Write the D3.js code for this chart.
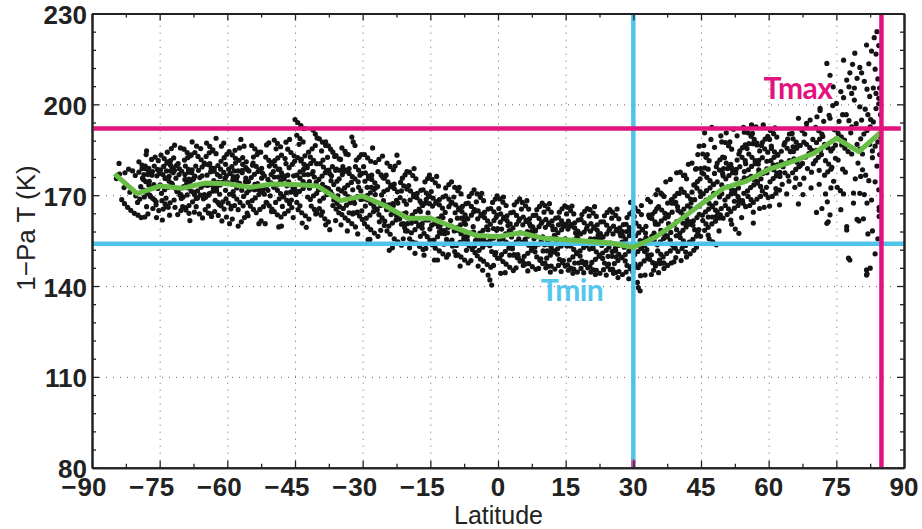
<!DOCTYPE html>
<html>
<head>
<meta charset="utf-8">
<script src="https://cdn.jsdelivr.net/npm/d3@7"></script>
<style>
  body { margin: 0; background: #fff; }
  text { font-family: "Liberation Sans", Arial, Helvetica, sans-serif; fill: #222; }
</style>
</head>
<body>
<svg id="chart" width="922" height="529"></svg>
<script>
// tick labels
const xTicks = [-90, -75, -60, -45, -30, -15, 0, 15, 30, 45, 60, 75, 90]
const yTicks = [80, 110, 140, 170, 200, 230]

// zonal mean (green line)
const meanLat = [-85, -80, -75, -70, -65, -60, -55, -50, -45, -40, -35, -30, -25, -20, -15, -10, -5, 0,
  5, 10, 15, 20, 25, 30, 35, 40, 45, 50, 55, 60, 65, 70, 75, 80, 85]
const meanT = [177, 170.5, 173, 172.3, 174, 173.8, 172.6, 173.7, 173.5, 173, 168.2, 169.7, 166.5, 162.4, 162.4, 159.5, 156.8, 156.3,
  157.6, 155.8, 155.3, 154.8, 154.2, 152.8, 156.2, 161.5, 167, 172.3, 174.6, 178.5, 181, 183.8, 188.8, 184.4, 191]

// reference lines
const tMin = 154, tMinLat = 30
const tMax = 192, tMaxLat = 85

// individual retrievals [latitude, T]
const scatterSouth = [
  [-84.6,175.5],[-83.9,177],[-82.7,177.4],[-81.9,178.6],[-81,178],[-80.4,176.5],[-83.4,168.5],[-82.8,167.2],[-82.1,166],[-81.4,165],[-80.6,164],
  [-82.9,172.5],[-81.6,171],[-80.3,169.8],[-84,180.5],
  [-79.8,163.4],[-79.1,162.6],[-78.3,162.8],[-77.6,163.8],[-79.6,177.6],[-78.9,178.8],[-78.2,179.6],[-77.4,178.9],[-76.6,177.8],
  [-79.2,172.8],[-78.5,171.7],[-77.8,170.6],[-77,169.5],[-76.1,168.4],[-76.8,181.8],[-76,182.6],[-75.3,181.4],
  [-78.6,175.2],[-77.3,174.6],[-76.3,173.5],[-75.4,172.2],[-76.5,165.6],[-75.8,166.8],[-75.2,164.9],[-78,183.4],[-75.6,176.4],[-79.4,168.7],[-77.9,166.2],
  [-74.8,178.4],[-74.1,179.5],[-73.4,180.6],[-72.6,181.4],[-71.9,182.3],[-74.6,170.6],[-73.9,171.8],[-73.1,172.6],[-72.3,173.9],
  [-74.2,165.4],[-73.5,166.3],[-72.7,167.5],[-71.8,168.4],[-71.4,175.6],[-70.7,176.8],[-70.1,177.9],[-73.8,175.5],[-72.9,176.2],[-72,177.4],
  [-71.2,171.2],[-70.5,170.1],[-70.2,168.9],[-73.3,184.2],[-72.4,185.4],[-71,163.6],[-70.3,164.9],[-74.4,161.8],[-72.2,179.1],[-70.9,180.4],[-73.6,169],[-71.6,166],
  [-69.7,172.8],[-69,173.9],[-68.2,174.6],[-67.4,175.7],[-69.5,181.6],[-68.8,182.4],[-68,183.3],[-67.2,184.1],[-69.2,165.8],[-68.5,166.6],[-67.7,167.8],[-66.9,168.9],
  [-66.4,178.2],[-65.6,179.3],[-65.1,180.2],[-68.6,177.6],[-67.8,178.4],[-67,179.6],[-66.6,171.4],[-65.8,172.6],[-65.2,173.4],[-69.8,169.4],[-68.9,170.1],[-67.5,171],
  [-66.2,163.8],[-65.5,162.5],[-68.3,161.6],[-66.8,186.2],[-65.9,185.4],[-69.4,176.8],[-66.1,175.8],[-67.3,164.4],
  [-64.7,182.8],[-64,184],[-63.3,184.6],[-62.5,183.7],[-64.5,176.6],[-63.7,177.7],[-62.9,178.9],[-62.1,179.8],[-64.8,169.3],[-64,170.5],[-63.2,171.3],[-62.4,172.4],[-61.6,173.4],
  [-61.8,166.9],[-61,167.8],[-60.3,168.8],[-63.6,163.8],[-62.8,164.6],[-62,163.3],[-61.4,181.2],[-60.7,182.4],[-60.1,183.5],[-63,174.8],[-61.6,176.2],[-60.5,175.6],
  [-60.8,187.2],[-61.3,186.2],[-64.2,166.4],[-60.4,171.6],[-62.7,168.3],[-61.2,161.5],[-63.9,180.4],
  [-59.7,178.6],[-59,179.4],[-58.2,180.6],[-57.4,181.5],[-56.6,182.4],[-59.5,170.3],[-58.7,171.2],[-57.9,172.4],[-57.1,173.2],[-59.2,165.5],[-58.4,166.6],[-57.6,165.2],
  [-57.6,159.8],[-56.9,161.2],[-56.2,162.6],[-55.6,164.1],[-58.8,175],[-57.8,176.2],[-56.7,177.4],[-55.6,178.5],[-56.4,169.6],[-55.7,170.8],[-55.2,171.6],
  [-58.3,184.8],[-57.3,185.6],[-56.3,186.2],[-59.8,174.1],[-56,174.4],[-55.4,167.6],[-58.9,162.1],[-55.8,181],
  [-54.7,175.8],[-54,176.9],[-53.2,177.8],[-52.4,178.9],[-54.5,168.2],[-53.8,169.1],[-53,170.2],[-52.2,171.1],[-51.4,172.3],[-54.2,182.6],[-53.4,183.4],[-52.6,184.2],
  [-51.8,176.4],[-51,175.2],[-50.3,174.1],[-53.6,164.2],[-52.8,165.3],[-52,166.2],[-51.2,167.4],[-50.7,179.6],[-50.2,180.8],[-51.3,186.6],[-50.8,187.3],
  [-54.8,172.1],[-53.3,173.8],[-50.5,169.8],[-52.5,161.5],[-51.6,160.6],[-54.4,179.9],[-50.2,164.6],
  [-49.7,172.6],[-49,173.4],[-48.2,174.6],[-47.4,175.4],[-46.6,176.6],[-49.5,181.4],[-48.8,182.3],[-48,183.2],[-47.2,182.1],[-49.3,167.6],[-48.5,168.8],[-47.7,169.6],[-46.9,170.8],
  [-48.1,162.8],[-47.3,163.9],[-46.5,164.8],[-45.7,165.9],[-46.3,179.1],[-45.6,180.2],[-45.1,181.2],[-49.8,177.8],[-48.4,178.6],[-46.8,173.1],[-45.4,172.2],
  [-47,187.5],[-46.2,188.4],[-45.3,176.4],[-45.8,168.4],[-49.2,185.3],[-48.6,159.5],[-47.8,166.3],
  [-45,195],[-44.4,194],[-43.7,193],[-43,192],[-44.6,176.6],[-43.9,177.7],[-43.1,178.5],[-42.3,179.6],[-41.5,180.5],[-44.8,170.2],[-44,171.3],[-43.2,172.2],[-42.4,173.4],
  [-44.3,165.2],[-43.5,164.2],[-42.7,163.2],[-41.9,162.1],[-42,184.2],[-41.2,185.3],[-40.5,186.4],[-41.6,168.6],[-40.9,169.8],[-40.2,170.6],[-41,191.5],[-40.5,190.2],[-40.1,188.9],
  [-43.6,181.8],[-42.8,183],[-40.7,176],[-41.8,174.5],[-44.1,186.8],[-40.4,163.8],[-42.5,159.4],
  [-39.7,175.2],[-39,176.3],[-38.3,177.4],[-37.5,178.3],[-36.7,179.4],[-39.5,168.1],[-38.7,169],[-37.9,170.2],[-37.1,171.2],[-39.2,163.4],[-38.4,162.2],[-37.6,161.2],
  [-38.2,187.6],[-37.6,186.3],[-37.1,185.2],[-36.4,173.5],[-35.7,174.6],[-35.2,175.4],[-36.6,166.6],[-35.9,165.4],[-35.3,164.2],[-38.8,181.6],[-37.8,182.5],[-36.2,182.8],
  [-39.8,171.8],[-36.9,176.4],[-35.5,169.8],[-37.3,158.6],[-39.1,184.6],[-35.8,178.6],
  [-34.7,171.4],[-34,172.4],[-33.3,173.3],[-32.5,174.2],[-31.7,175.4],[-34.5,176.8],[-33.8,177.9],[-33,178.8],[-34.3,165.6],[-33.6,166.7],[-32.8,167.5],[-32,168.6],[-31.2,169.5],
  [-33.2,161.6],[-32.4,160.6],[-31.6,159.5],[-32.4,189.2],[-32.1,187.6],[-31.7,186.4],[-31.4,181.6],[-30.8,182.5],[-30.3,183.4],[-30.9,172.6],[-30.4,171.4],[-30.2,164.8],
  [-34.9,181.8],[-33.7,183.6],[-32.2,163.8],[-30.6,176.6],[-34.8,160.2],[-31.1,157.2]
]

const scatterSouthB = [
  [-79.6,181],[-78.9,179.9],[-78.2,178.8],[-77.5,177.7],[-78.8,175.6],[-78.1,174.5],[-77.4,173.4],[-76.7,172.3],[-77.2,170],[-76.5,168.9],[-75.8,167.8],
  [-76.2,179.6],[-75.5,178.5],[-75.1,177.2],[-79.9,167.6],[-77.9,184.6],[-75.7,162.6],[-78.4,169.4],
  [-74.7,183.2],[-74,182.1],[-73.3,181],[-72.6,179.9],[-74.3,176.8],[-73.6,175.7],[-72.9,174.6],[-72.2,173.5],[-71.6,172.4],[-70.9,171.3],[-70.3,170.2],
  [-74.5,168.2],[-73.8,167.1],[-73.1,166],[-71.3,179.8],[-70.6,178.7],[-72.8,163.4],[-70.4,185.6],[-74.9,173.4],[-71.7,186.5],
  [-69.6,185.2],[-68.9,184.1],[-68.2,183],[-69.3,179.6],[-68.6,178.5],[-67.9,177.4],[-67.2,176.3],[-68.7,172.4],[-68,171.3],[-67.3,170.2],[-66.6,169.1],
  [-66.5,182.8],[-65.8,181.7],[-65.1,180.6],[-69.9,166.2],[-69.2,165.1],[-68.5,164],[-65.6,176.4],[-66.9,166.2],[-65.3,168.8],[-67.8,187.6],
  [-64.6,187.2],[-63.9,186.1],[-63.2,185],[-64.3,180.1],[-63.6,179],[-62.9,177.9],[-62.2,176.8],[-63.8,173.6],[-63.1,172.5],[-62.4,171.4],[-61.7,170.3],
  [-61.5,178.6],[-60.8,177.5],[-60.2,176.4],[-64.9,165.2],[-64.2,164.1],[-63.5,163],[-62.1,167.6],[-61.4,166.5],[-60.7,165.4],[-60.4,180.2],[-62.5,188.8],[-60.2,162.8],[-64.4,173.2],
  [-59.6,184.4],[-58.9,183.3],[-58.2,182.2],[-59.4,177.2],[-58.7,176.1],[-58,175],[-57.3,173.9],[-58.6,169.8],[-57.9,168.7],[-57.2,167.6],[-56.5,166.5],
  [-56.6,180.2],[-55.9,179.1],[-55.2,178],[-59.8,167.4],[-59.1,166.3],[-55.9,175.6],[-55.3,174.5],[-57,188.4],[-55.4,163.2],[-59.5,160.6],[-56.8,171.6],
  [-54.6,186.4],[-53.9,185.3],[-53.2,184.2],[-54.3,180.6],[-53.6,179.5],[-52.9,178.4],[-52.2,177.3],[-53.9,173.6],[-53.2,172.5],[-52.5,171.4],[-51.8,170.3],
  [-51.5,182.6],[-50.8,181.5],[-50.1,180.4],[-54.9,166.4],[-54.2,165.3],[-51.4,167.6],[-50.7,166.5],[-50.1,165.4],[-52.4,175.6],[-50.3,176.8],[-53,160.6],[-51,171.6],
  [-49.6,188.2],[-48.9,187.1],[-48.2,186],[-49.4,179.6],[-48.7,178.5],[-48,177.4],[-47.3,176.3],[-48.9,171.6],[-48.2,170.5],[-47.5,169.4],[-46.8,168.3],
  [-46.6,185.2],[-45.9,184.1],[-45.2,183],[-49.6,164.6],[-48.9,163.5],[-46.4,174.4],[-45.7,173.3],[-45.1,172.2],[-47,180.4],[-45.4,162.6],[-48,159.8],[-46.2,167.2],
  [-44.6,189.8],[-43.9,188.7],[-43.2,187.6],[-44.4,182.4],[-43.7,181.3],[-43,180.2],[-42.3,179.1],[-43.9,175.6],[-43.2,174.5],[-42.5,173.4],[-41.8,172.3],
  [-41.6,182.6],[-40.9,181.5],[-40.2,180.4],[-44.6,167.6],[-43.9,166.5],[-41.4,166.4],[-40.7,165.3],[-40.1,164.2],[-42.2,169.4],[-40.3,174.2],[-43.4,160.8],[-41,177.8],
  [-39.6,188.6],[-38.9,187.5],[-38.2,186.4],[-39.4,180.4],[-38.7,179.3],[-38,178.2],[-37.3,177.1],[-38.9,173.6],[-38.2,172.5],[-37.5,171.4],[-36.8,170.3],
  [-36.6,184.2],[-35.9,183.1],[-35.2,182],[-39.6,165.6],[-38.9,164.5],[-36.4,168.4],[-35.7,167.3],[-35.1,166.2],[-37,174.8],[-35.4,172],[-38.2,160.2],[-36,161.6],
  [-34.6,185.6],[-33.9,184.5],[-33.2,183.4],[-34.4,179.4],[-33.7,178.3],[-33,177.2],[-32.3,176.1],[-33.9,170.6],[-33.2,169.5],[-32.5,168.4],[-31.8,167.3],
  [-31.6,179.4],[-30.9,178.3],[-30.2,177.2],[-34.6,163.6],[-33.9,162.5],[-31.4,164.2],[-30.7,163.1],[-30.1,162],[-32.2,171.8],[-30.4,168.6],[-33.4,158.2],[-31,174.4]
]

const scatterTropics = [
  [-29.7,168.8],[-29,169.9],[-28.3,170.8],[-27.5,171.9],[-26.7,172.8],[-29.5,174.6],[-28.7,175.6],[-28,176.6],[-29.2,162.4],[-28.4,163.4],[-27.6,164.6],[-26.8,165.4],[-26,166.6],
  [-28.2,158.6],[-27.4,157.5],[-26.6,156.4],[-25.8,170.1],[-25.3,171.2],[-27.2,180.8],[-26.4,181.8],[-25.6,182.9],[-29.8,179.4],[-25.5,175.8],[-26.3,161.2],[-25.2,160],
  [-29.4,166.4],[-27.8,185.6],[-28.8,155.3],
  [-24.7,165.2],[-24,166.2],[-23.3,167.2],[-22.5,168.3],[-21.7,169.2],[-24.5,171.8],[-23.8,172.8],[-23,173.7],[-24.2,159.8],[-23.4,160.8],[-22.6,161.8],[-21.8,162.9],[-21,163.8],
  [-23,155.6],[-22.2,154.6],[-21.4,153.5],[-21.2,175.6],[-20.6,176.7],[-20.2,177.8],[-20.8,168.1],[-20.3,167],[-22.8,179.6],[-22,180.8],[-24.8,176.6],[-20.5,158.2],
  [-23.7,163.6],[-21.4,171.4],[-24.1,151.8],[-22.4,183.2],
  [-19.7,162.4],[-19,163.4],[-18.3,164.6],[-17.5,165.4],[-16.7,166.6],[-19.5,168.4],[-18.7,169.5],[-17.9,170.6],[-17.1,171.6],[-19.2,157.6],[-18.4,158.6],[-17.6,159.8],[-16.8,160.6],[-16,161.8],
  [-18.2,154.2],[-17.4,153.1],[-16.6,152.1],[-15.9,168.6],[-15.4,169.8],[-16.2,174.4],[-15.6,175.5],[-15.2,176.6],[-19.8,173.2],[-17.2,156.4],[-15.5,164.2],[-18.6,178.8],
  [-16.4,150.2],[-19.6,152.6],[-15.1,158.8],
  [-14.7,160.1],[-14,161.2],[-13.3,162.2],[-12.5,163.2],[-11.7,164.3],[-14.5,166.4],[-13.8,167.4],[-13,168.5],[-12.2,169.4],[-14.2,155.2],[-13.4,156.3],[-12.6,157.4],[-11.8,158.3],[-11,159.4],
  [-13,151.6],[-12.2,150.6],[-11.4,149.5],[-10.9,166.2],[-10.4,167.3],[-11.6,172.4],[-10.9,173.5],[-10.3,174.4],[-14.8,171.2],[-12,153.8],[-10.5,161.6],[-13.6,176.2],
  [-10.2,155.2],[-14.1,148.6],[-12.8,160],
  [-9.7,158.2],[-9,159.3],[-8.3,160.2],[-7.5,161.3],[-6.7,162.2],[-9.5,164.2],[-8.7,165.2],[-7.9,166.3],[-7.1,167.2],[-9.2,153.4],[-8.4,154.4],[-7.6,155.5],[-6.8,156.4],[-6,157.5],
  [-8.2,149.6],[-7.4,148.6],[-6.6,147.6],[-5.9,163.4],[-5.4,164.5],[-6.4,169.6],[-5.8,170.6],[-5.3,171.8],[-9.8,169.4],[-7,151.8],[-5.5,159.6],[-8.6,172.6],
  [-5.2,153.2],[-9.3,150.1],[-7.8,158.2],
  [-4.7,156.4],[-4,157.5],[-3.3,158.4],[-2.5,159.5],[-1.7,160.4],[-4.5,162.2],[-3.8,163.2],[-3,164.3],[-2.2,165.4],[-4.2,151.8],[-3.4,152.8],[-2.6,153.8],[-1.8,154.9],[-1,155.8],
  [-3.2,148.2],[-2.4,147.1],[-1.6,146.2],[-2.2,143.6],[-1.4,140.3],[-1.8,142],[-0.9,161.6],[-0.4,162.7],[-1.2,167.6],[-0.6,168.7],[-0.2,169.8],[-4.8,167.8],[-0.5,151],
  [-3.6,170.6],[-4.4,146.6],[-0.3,158.4],
  [0.3,155.2],[1,156.3],[1.7,157.2],[2.5,158.3],[3.3,159.2],[0.5,161.1],[1.2,162.2],[2,163.2],[2.8,164.2],[0.8,150.4],[1.6,151.4],[2.4,152.5],[3.2,153.4],[4,154.5],
  [1.8,147.2],[2.6,146.2],[3.4,145.1],[4.1,160.4],[4.6,161.5],[3.6,166.8],[4.2,167.8],[4.8,168.8],[0.2,165.6],[4.5,149.4],[3,156.2],[1.2,169.4],[4.9,157.6],[0.6,144.2],[2.2,160],
  [5.3,154.4],[6,155.4],[6.7,156.5],[7.5,157.4],[8.3,158.5],[5.5,160.2],[6.2,161.3],[7,162.2],[7.8,163.3],[5.8,149.8],[6.6,150.8],[7.4,151.8],[8.2,152.9],[9,153.8],
  [6.8,147.4],[7.6,146.4],[8.4,145.5],[9.1,159.6],[9.6,160.7],[8.6,165.2],[9.2,166.3],[9.8,167.4],[5.2,165.4],[9.5,149],[8,155.6],[6.4,168.2],[9.9,156.2],[5.6,146.8],[7.2,159.8],
  [10.3,153.6],[11,154.6],[11.7,155.6],[12.5,156.7],[13.3,157.6],[10.5,159.4],[11.2,160.4],[12,161.5],[12.8,162.4],[10.8,149.2],[11.6,150.2],[12.4,151.2],[13.2,152.3],[14,153.2],
  [11.8,146.6],[12.6,145.6],[13.4,146.8],[14.1,158.6],[14.6,159.7],[13.6,164.4],[14.2,165.5],[14.8,166.5],[10.2,164.4],[14.5,148.4],[13,155],[11.4,167.2],[14.9,155.6],[10.6,146],[12.2,158.6],
  [15.3,153.2],[16,154.2],[16.7,155.2],[17.5,156.3],[18.3,157.2],[15.5,158.8],[16.2,159.8],[17,160.9],[17.8,161.8],[15.8,148.6],[16.6,149.6],[17.4,150.7],[18.2,151.6],[19,152.7],
  [16.8,145.6],[17.6,144.6],[18.4,145.8],[19.1,157.8],[19.6,158.9],[18.6,163.6],[19.2,164.7],[19.8,165.6],[15.2,163.8],[19.5,147.8],[18,154.4],[16.4,166.4],[19.9,154.6],[15.6,145.2],[17.2,157.6],
  [20.3,152.2],[21,153.3],[21.7,154.2],[22.5,155.3],[23.3,156.2],[20.5,158.1],[21.2,159.1],[22,160.2],[22.8,161.2],[20.8,147.8],[21.6,148.8],[22.4,149.8],[23.2,150.9],[24,151.8],
  [21.8,145.2],[22.6,144.2],[23.4,145.4],[24.1,157.2],[24.6,158.3],[23.6,163.2],[24.2,164.3],[24.8,165.2],[20.2,163.1],[24.5,147.2],[23,153.4],[21.4,166.2],[24.9,154.2],[20.6,144.6],[22.2,156.8],
  [25.3,151.4],[26,152.4],[26.7,153.4],[27.5,154.5],[28.3,155.4],[25.5,157.2],[26.2,158.3],[27,159.2],[27.8,160.3],[25.8,147.4],[26.6,148.4],[27.4,149.4],[28.2,150.4],[29,151.5],
  [26.8,144.8],[27.6,143.8],[28.4,144.6],[29.1,156.6],[29.6,157.7],[28.6,162.6],[29.2,163.8],[29.8,164.6],[29.4,167.6],[25.2,162.4],[29.5,146.4],[28,152.8],[26.4,165.4],
  [29.9,153.4],[25.6,144.2],[27.2,156.6]
]

const scatterTropicsB = [
  [-29.6,183.4],[-28.9,182.3],[-28.2,181.2],[-29.4,177.4],[-28.7,176.3],[-28,175.2],[-27.3,174.1],[-28.9,168.4],[-28.2,167.3],[-27.5,166.2],[-26.8,165.1],
  [-26.6,177.8],[-25.9,176.7],[-25.2,175.6],[-29.6,160.6],[-28.9,159.5],[-26.4,163.6],[-25.7,162.5],[-25.1,161.4],[-27.2,170.2],[-25.4,168.2],[-28.4,155.4],[-26,158.4],
  [-24.6,180.6],[-23.9,179.5],[-23.2,178.4],[-24.4,174.4],[-23.7,173.3],[-23,172.2],[-22.3,171.1],[-23.9,165.4],[-23.2,164.3],[-22.5,163.2],[-21.8,162.1],
  [-21.6,174.2],[-20.9,173.1],[-20.2,172],[-24.6,158.2],[-23.9,157.1],[-21.4,160.4],[-20.7,159.3],[-20.1,158.2],[-22.2,167.4],[-20.4,164.2],[-23.4,152.6],[-21,155.6],
  [-19.6,177.6],[-18.9,176.5],[-18.2,175.4],[-19.4,171.4],[-18.7,170.3],[-18,169.2],[-17.3,168.1],[-18.9,162.4],[-18.2,161.3],[-17.5,160.2],[-16.8,159.1],
  [-16.6,171.8],[-15.9,170.7],[-15.2,169.6],[-19.6,155.6],[-18.9,154.5],[-16.4,157.4],[-15.7,156.3],[-15.1,155.2],[-17.2,164.6],[-15.4,161.8],[-18.4,150.8],[-16,152.4],
  [-14.6,175.2],[-13.9,174.1],[-13.2,173],[-14.4,169],[-13.7,167.9],[-13,166.8],[-12.3,165.7],[-13.9,160.6],[-13.2,159.5],[-12.5,158.4],[-11.8,157.3],
  [-11.6,169.8],[-10.9,168.7],[-10.2,167.6],[-14.6,153.6],[-13.9,152.5],[-11.4,155.4],[-10.7,154.3],[-10.1,153.2],[-12.2,162.6],[-10.4,159.8],[-13.4,148.6],[-11,150.4],
  [-9.6,172.6],[-8.9,171.5],[-8.2,170.4],[-9.4,166.8],[-8.7,165.7],[-8,164.6],[-7.3,163.5],[-8.9,158.4],[-8.2,157.3],[-7.5,156.2],[-6.8,155.1],
  [-6.6,167.4],[-5.9,166.3],[-5.2,165.2],[-9.6,151.4],[-8.9,150.3],[-6.4,153.2],[-5.7,152.1],[-5.1,151],[-7.2,160.4],[-5.4,157.8],[-8.4,146.6],[-6,148.4],
  [-4.6,170.4],[-3.9,169.3],[-3.2,168.2],[-4.4,164.8],[-3.7,163.7],[-3,162.6],[-2.3,161.5],[-3.9,156.6],[-3.2,155.5],[-2.5,154.4],[-1.8,153.3],
  [-1.6,165.6],[-0.9,164.5],[-0.2,163.4],[-4.6,150],[-3.9,148.9],[-1.4,151.4],[-0.7,150.3],[-0.1,149.2],[-2.2,158.6],[-0.4,156.4],[-3.4,145.2],[-1,146.8],
  [0.4,168.8],[1.1,167.7],[1.8,166.6],[0.6,163.8],[1.3,162.7],[2,161.6],[2.7,160.5],[1.1,155.6],[1.8,154.5],[2.5,153.4],[3.2,152.3],
  [3.4,164.4],[4.1,163.3],[4.8,162.2],[0.4,149.2],[1.1,148.1],[3.6,150.4],[4.3,149.3],[4.9,148.2],[2.8,157.8],[4.6,155.6],[1.6,144.4],[4,146],
  [5.4,167.6],[6.1,166.5],[6.8,165.4],[5.6,162.8],[6.3,161.7],[7,160.6],[7.7,159.5],[6.1,154.6],[6.8,153.5],[7.5,152.4],[8.2,151.3],
  [8.4,163.4],[9.1,162.3],[9.8,161.2],[5.4,148.4],[6.1,147.3],[8.6,149.6],[9.3,148.5],[9.9,147.4],[7.8,156.8],[9.6,154.8],[6.6,145],[9,145.8],
  [10.4,166.6],[11.1,165.5],[11.8,164.4],[10.6,162],[11.3,160.9],[12,159.8],[12.7,158.7],[11.1,153.8],[11.8,152.7],[12.5,151.6],[13.2,150.5],
  [13.4,162.6],[14.1,161.5],[14.8,160.4],[10.4,147.6],[11.1,146.5],[13.6,148.8],[14.3,147.7],[14.9,146.6],[12.8,156],[14.6,154],[11.6,144.6],[14,144.8],
  [15.4,166],[16.1,164.9],[16.8,163.8],[15.6,161.4],[16.3,160.3],[17,159.2],[17.7,158.1],[16.1,153.2],[16.8,152.1],[17.5,151],[18.2,149.9],
  [18.4,162],[19.1,160.9],[19.8,159.8],[15.4,147],[16.1,145.9],[18.6,148.2],[19.3,147.1],[19.9,146],[17.8,155.4],[19.6,153.4],[16.6,144.2],[19,144.4],
  [20.4,165.2],[21.1,164.1],[21.8,163],[20.6,160.6],[21.3,159.5],[22,158.4],[22.7,157.3],[21.1,152.4],[21.8,151.3],[22.5,150.2],[23.2,149.1],
  [23.4,161.2],[24.1,160.1],[24.8,159],[20.4,146.4],[21.1,145.3],[23.6,147.6],[24.3,146.5],[24.9,145.4],[22.8,154.8],[24.6,152.8],[21.6,143.8],[24,143.6],
  [25.4,164.4],[26.1,163.3],[26.8,162.2],[25.6,159.8],[26.3,158.7],[27,157.6],[27.7,156.5],[26.1,151.6],[26.8,150.5],[27.5,149.4],[28.2,148.3],
  [28.4,160.4],[29.1,159.3],[29.8,158.2],[25.4,145.6],[26.1,144.5],[28.6,146.8],[29.3,145.7],[29.9,144.6],[27.8,154],[29.6,152],[26.6,142.8],[29,142.4]
]

const scatterNorth = [
  [30.3,150.4],[31,151.4],[31.7,152.5],[32.5,153.4],[33.3,154.5],[30.5,156.6],[31.2,157.6],[32,158.6],[32.8,159.7],[30.8,146.2],[31.6,147.2],[32.4,148.3],[33.2,149.2],[34,150.3],
  [31.1,139.5],[31.5,138.4],[30.9,141.2],[34.1,156.4],[34.6,157.5],[33.6,162.6],[34.2,163.7],[34.8,164.6],[30.2,163],[34.5,145.2],[33,152],[31.8,166.6],[34.9,160.4],[32.6,143.6],[33.8,167.8],
  [35.3,153.6],[36,154.6],[36.7,155.7],[37.5,156.6],[38.3,157.7],[35.5,160.4],[36.2,161.5],[37,162.4],[37.8,163.5],[38.6,164.4],[35.8,148.6],[36.6,149.6],[37.4,150.7],[38.2,151.6],[39,152.7],
  [36.8,145.8],[37.6,146.8],[38.4,147.6],[39.1,160.2],[39.6,161.3],[38.6,168.6],[39.2,169.7],[39.8,170.6],[35.2,165.6],[39.5,156.6],[38,159.6],[36.4,170.2],[39.9,165],[35.6,144.4],
  [37.2,174.4],[39.4,149.4],
  [40.3,157.4],[41,158.4],[41.7,159.5],[42.5,160.4],[43.3,161.5],[40.5,164.4],[41.2,165.4],[42,166.5],[42.8,167.4],[43.6,168.5],[40.8,152.4],[41.6,153.4],[42.4,154.5],[43.2,155.4],[44,156.5],
  [41.8,149.6],[42.6,150.6],[43.4,151.8],[44.1,162.6],[44.6,163.7],[43.6,173.4],[44.2,174.5],[44.8,175.4],[40.2,170.6],[44.5,158.6],[43,171],[41.4,176.6],[44.9,169.6],[40.6,148.4],
  [42.2,180.2],[44.3,183.4],[43.8,178.6],
  [45.3,163.4],[46,164.5],[46.7,165.4],[47.5,166.5],[48.3,167.4],[45.5,170.4],[46.2,171.5],[47,172.4],[47.8,173.5],[48.6,174.4],[45.8,158.4],[46.6,159.4],[47.4,160.5],[48.2,161.4],[49,162.5],
  [46.8,155.6],[47.6,154.6],[48.4,153.6],[49.1,169.4],[49.6,170.5],[48.6,180.6],[49.2,181.7],[49.8,182.6],[45.2,177.4],[49.5,165.6],[48,177.2],[46.4,183.4],[49.9,176.4],[45.6,186.4],
  [47.2,188.4],[49.4,189.6],[46.6,178.6],
  [50.3,168.4],[51,169.5],[51.7,170.4],[52.5,171.5],[53.3,172.4],[50.5,175.4],[51.2,176.5],[52,177.4],[52.8,178.5],[53.6,179.4],[50.8,163.6],[51.6,164.6],[52.4,165.7],[53.2,166.6],[54,167.7],
  [51.8,160.4],[52.6,158.8],[53.4,157.4],[54.1,174.6],[54.6,175.7],[53.6,184.6],[54.2,185.7],[54.8,186.6],[50.2,182.4],[54.5,170.6],[53,181.6],[51.4,187.6],[54.9,180.4],[50.6,190.6],
  [52.2,191.8],[54.4,192.4],[51.6,180.2],
  [55.3,171.4],[56,172.5],[56.7,173.4],[57.5,174.5],[58.3,175.4],[55.5,178.4],[56.2,179.5],[57,180.4],[57.8,181.5],[58.6,182.4],[55.8,166.6],[56.6,167.6],[57.4,168.7],[58.2,169.6],
  [56.6,160.8],[58,165.6],[59.1,177.6],[59.6,178.7],[58.6,187.4],[59.2,188.5],[59.8,189.4],[55.2,185.4],[59.5,172.6],[58,184.6],[56.4,190.4],[56.2,193.2],[58.8,193.2],[57.4,186.6],[55.6,175.6],
  [60.3,174.4],[61,175.5],[61.7,176.4],[62.5,177.5],[60.5,181.4],[61.2,182.5],[62,183.4],[62.8,184.5],[60.8,169.6],[61.6,170.6],[62.4,171.7],[63.2,179.4],[63.9,180.5],[64.6,181.4],
  [63.6,187.4],[64.2,188.5],[60.2,188.4],[64.5,174.6],[63,173.6],[61.4,192.2],[64.9,184.4],[62.4,166.8],[60.6,186.2],
  [65.3,177.4],[66,178.5],[66.7,179.4],[67.5,180.5],[65.5,184.4],[66.2,185.5],[67,186.4],[67.8,187.5],[65.8,172.6],[66.6,167.1],[66.9,173.6],[68.2,182.6],[68.9,183.7],[69.6,184.6],
  [68.4,192.4],[69.2,194.8],[68.4,193.7],[65.2,190.4],[69.5,177.6],[67.8,175.6],[66.6,195.4],[69.8,188.4],
  [70.4,181.4],[71,182.5],[71.7,183.4],[70.6,187.4],[71.3,188.5],[72,189.4],[70.7,195.9],[71.4,198.7],[71.4,198],[70.6,164.3],[73.2,161.2],[73.6,163.5],[72.9,160.7],
  [72.4,176.6],[73.1,177.7],[73.8,178.6],[74.3,205.8],[75,200.3],[72.9,213.5],[73.6,195.4],[74.2,185.4],[74.8,186.5],[72.6,170.4],[71.2,173.6],[74.6,191.6],[73,167.8],
  [75.2,172.6],[75.9,171.5],[76.6,170.4],[76.6,214.6],[77.3,208],[77.8,205.8],[78.4,203.6],[79,201.4],[80.2,199.2],[79.1,216.9],[78.6,213.2],[78,210.4],
  [77.3,159.6],[77.3,158.5],[77.7,149.2],[78,148.6],[78.8,170.7],[78.8,167.4],[79.6,162],[80,161.5],[76.2,186.6],[76.9,185.5],[77.6,184.4],
  [75.6,194.4],[76.4,196.6],[78.2,190.6],[79.4,193.6],[79.8,180.6],[77,177.6],[75.4,181.6],[76,165.2],[79.2,175.4],
  [81.7,219.6],[84,224],[83.4,222],[82.8,217.6],[82.2,213.4],[80.6,210.4],[81.2,207.6],[81.8,205],[82.4,202.6],[83.6,211.6],[84.2,208.4],[84.6,205.4],
  [81.7,145.3],[81.8,144],[81.7,143.6],[82.5,145.9],[84.5,166],[84.5,165],[84.5,163],[81,162.2],[80.4,188.6],[81.1,190.2],[81.8,191.4],[82.5,192.6],[83.2,194.2],
  [83.8,198.6],[84.4,200.2],[84.8,196.6],[80.8,178.4],[81.5,176.6],[82.2,174.8],[83,184.6],[83.6,186.2],[84.2,187.6],[84.8,189.2],[80.2,170.6],[82.8,168.4],[84,179.6],
  [84.6,183.4],[83,158.2],[84.2,155.6],[80.6,194.8]
]

const scatterNorthB = [
  [30.4,165.8],[31.1,164.7],[31.8,163.6],[30.6,160.8],[31.3,159.7],[32,158.6],[32.7,157.5],[31.1,153.6],[31.8,152.5],[32.5,151.4],[33.2,150.3],
  [33.4,163.4],[34.1,162.3],[34.8,161.2],[30.4,147.2],[31.1,146.1],[33.6,148.8],[34.3,147.7],[34.9,146.6],[32.8,156],[34.6,155],[31.6,143.4],[34,143.8],[33.2,168.6],[35,170.2],
  [35.4,171.8],[36.1,170.7],[36.8,169.6],[35.6,166.2],[36.3,165.1],[37,164],[37.7,162.9],[36.1,158.4],[36.8,157.3],[37.5,156.2],[38.2,155.1],
  [38.4,168.4],[39.1,167.3],[39.8,166.2],[35.4,151.6],[36.1,150.5],[38.6,153.6],[39.3,152.5],[39.9,151.4],[37.8,160.6],[39.6,158.6],[36.6,147.6],[39,148],[38.2,175.2],[39.6,177.4],
  [40.4,177.6],[41.1,176.5],[41.8,175.4],[40.6,172],[41.3,170.9],[42,169.8],[42.7,168.7],[41.1,163.4],[41.8,162.3],[42.5,161.2],[43.2,160.1],
  [43.4,173.4],[44.1,172.3],[44.8,171.2],[40.4,156],[41.1,154.9],[43.6,158.6],[44.3,157.5],[44.9,156.4],[42.8,165.6],[44.6,166.4],[41.6,151.2],[44,152.8],[43,180.6],[44.6,186.2],
  [45.4,183.6],[46.1,182.5],[46.8,181.4],[45.6,177],[46.3,175.9],[47,174.8],[47.7,173.7],[46.1,168.4],[46.8,167.3],[47.5,166.2],[48.2,165.1],
  [48.4,179.4],[49.1,178.3],[49.8,177.2],[45.4,161.6],[46.1,160.5],[48.6,164.6],[49.3,163.5],[49.9,162.4],[47.8,170.6],[49.6,173.4],[46.6,156.8],[49,158.2],[48,185.8],[49.6,187.6],
  [45.8,190.6],[47.4,192.4],
  [50.4,187.4],[51.1,186.3],[51.8,185.2],[50.6,180.6],[51.3,179.5],[52,178.4],[52.7,177.3],[51.1,172.8],[51.8,171.7],[52.5,170.6],[53.2,169.5],
  [53.4,183.6],[54.1,182.5],[54.8,181.4],[50.4,166.6],[51.1,165.5],[53.6,168.4],[54.3,167.3],[54.9,166.2],[52.8,175.4],[54.6,177.8],[51.6,161.8],[54,162.6],[53,189.6],[54.6,190.8],
  [55.4,190.6],[56.1,189.5],[56.8,188.4],[55.6,183.6],[56.3,182.5],[57,181.4],[57.7,180.3],[56.1,176.2],[56.8,175.1],[57.5,174],[58.2,172.9],
  [58.4,186.4],[59.1,185.3],[59.8,184.2],[55.4,169.6],[56.1,168.5],[58.6,171.4],[59.3,170.3],[59.9,169.2],[57.8,178.4],[59.6,181.2],[56.6,164.4],[59,166],[57.2,192.6],
  [60.4,191.4],[61.1,190.3],[61.8,189.2],[60.6,185.4],[61.3,184.3],[62,183.2],[61.1,178.4],[61.8,177.3],[62.5,176.2],[63.4,186.6],[64.1,185.5],[64.8,184.4],
  [63.6,177.4],[64.3,176.3],[62.8,181],[64.6,190.2],[61.6,172.2],[64,170.4],[60.2,166.4],
  [65.4,188.6],[66.1,187.5],[66.8,186.4],[65.6,182],[66.3,180.9],[67,179.8],[68.4,186.8],[69.1,185.7],[69.8,184.6],[67.4,191.4],[68,190.2],
  [66,175.6],[68.6,178.8],[69.4,172.4],[67.6,170.2],[69.9,180.4],
  [70.4,192.4],[71.1,191.3],[71.8,190.2],[72.4,186.8],[73.1,185.7],[73.8,184.6],[72.6,181.4],[73.3,180.3],[74,179.2],
  [71.2,178.2],[74.4,174.6],[73.4,196.4],[74.8,182.2],[71.8,165.6],[73.8,172.4],[72.2,194.4],[74.2,199.6],[73.6,209.6],
  [75.4,190.4],[76.1,189.3],[76.8,188.2],[77.2,196.6],[77.8,194.6],[78.4,192.6],[76,204.2],[76.6,202.2],[79.6,186.8],[80.2,185.2],[80.8,183.6],
  [81.4,198.4],[82,196.6],[82.6,195],[83.2,205.4],[83.8,203.6],[84.4,202],[82.4,186.8],[83,182.4],[79,205.4],[79.6,208.6],[80.2,212.2],[83.8,216.6],[84.4,219.4],
  [81.2,170.2],[81.8,167.4],[83.6,174.4],[84.4,171.8],[82,157.2],[83.6,150.6],[78.4,183.6],[76.4,178.6],[80.4,176.2]
]

// flatter streaks filling the densest part of the cloud
const scatterFill = [
  [-78.5,176.8],[-77.6,176.8],[-76.7,176.6],[-73.5,178],[-72.6,178],[-71.7,178.2],[-69.4,175.2],[-68.5,175.3],[-67.6,175.2],
  [-66,170],[-65.1,170.2],[-64.2,170],[-62,174.2],[-61.1,174.2],[-60.2,174],[-58.5,178],[-57.6,178],[-56.7,178.2],
  [-54,171.8],[-53.1,171.8],[-52.2,171.6],[-49.6,176],[-48.7,176],[-47.8,176.2],[-46,171],[-45.1,171],[-44.2,171.2],
  [-43,176.8],[-42.1,176.8],[-41.2,177],[-39.4,172],[-38.5,172],[-37.6,172.2],[-36,178.2],[-35.1,178.2],[-34.2,178],
  [-33,164.2],[-32.1,164.2],[-31.2,164.4],[-29,172.6],[-28.1,172.6],[-27.2,172.4],[-25,166.8],[-24.1,166.8],[-23.2,166.6],
  [-21,160.6],[-20.1,160.6],[-19.2,160.8],[-17,167.4],[-16.1,167.4],[-15.2,167.2],[-13,157.8],[-12.1,157.8],[-11.2,157.6],
  [-9,162.4],[-8.1,162.4],[-7.2,162.6],[-5,155],[-4.1,155],[-3.2,155.2],[-1,159],[-0.1,159],[0.8,158.8],
  [2.6,150.2],[3.5,150.2],[4.4,150.4],[6.5,158],[7.4,158],[8.3,158.2],[10,151.6],[10.9,151.6],[11.8,151.4],
  [13.4,160.2],[14.3,160.2],[15.2,160],[17,147.6],[17.9,147.6],[18.8,147.8],[20.5,155.6],[21.4,155.6],[22.3,155.8],
  [24.4,149.8],[25.3,149.8],[26.2,149.6],[27.6,158],[28.5,158],[29.4,158.2],[31.5,155],[32.4,155],[33.3,155.2],
  [35,147.4],[35.9,147.4],[36.8,147.6],[37.6,167.4],[38.5,167.4],[39.4,167.6],[41,160.8],[41.9,160.8],[42.8,161],
  [44,178.8],[44.9,178.8],[45.8,179],[46.6,162.8],[47.5,162.8],[48.4,163],[50,178.8],[50.9,178.8],[51.8,179],
  [52.4,168],[53.3,168],[54.2,168.2],[55.6,187],[56.5,187],[57.4,187.2],[57.8,177.2],[58.7,177.2],[59.6,177.4],
  [61,180],[61.9,180],[62.8,180.2],[65.4,186],[66.3,186],[70.6,184.8],[71.5,184.8]
]

const margin = { top: 13.5, right: 18, bottom: 61.3, left: 92 }
const width = 922 - margin.left - margin.right
const height = 529 - margin.top - margin.bottom

const svg = d3.select('#chart')
const chart = svg.append('g')
  .attr('transform', `translate(${margin.left}, ${margin.top})`)

const x = d3.scaleLinear().domain([-90, 90]).range([0, width])
const y = d3.scaleLinear().domain([80, 230]).range([height, 0])

// grid lines (dotted)
const innerX = xTicks.slice(1, -1)
const innerY = yTicks.slice(1, -1)
chart.append('g')
  .attr('class', 'grid')
  .attr('transform', `translate(0, ${height})`)
  .call(d3.axisBottom(x).tickValues(innerX).tickSize(-height).tickFormat(''))
chart.append('g')
  .attr('class', 'grid')
  .call(d3.axisLeft(y).tickValues(innerY).tickSize(-width).tickFormat(''))
chart.selectAll('.grid .domain').remove()
chart.selectAll('.grid line')
  .style('stroke', '#666')
  .style('stroke-width', 1)
  .style('stroke-dasharray', '1,6')

// scatter
const points = scatterSouth.concat(scatterSouthB, scatterTropics, scatterTropicsB, scatterNorth, scatterNorthB, scatterFill)
chart.append('g')
  .selectAll('circle')
  .data(points)
  .enter()
  .append('circle')
  .attr('cx', d => x(d[0]))
  .attr('cy', d => y(d[1]))
  .attr('r', 2.6)
  .style('fill', '#141414')

// reference lines
const cyan = '#4fc3ea'
const magenta = '#e2137f'
chart.append('line')
  .attr('x1', x(-90)).attr('x2', x(90))
  .attr('y1', y(tMin)).attr('y2', y(tMin))
  .style('stroke', cyan).style('stroke-width', 4.5)
chart.append('line')
  .attr('x1', x(tMinLat)).attr('x2', x(tMinLat))
  .attr('y1', y(230)).attr('y2', y(80))
  .style('stroke', cyan).style('stroke-width', 4.5)
chart.append('rect')
  .attr('x', x(tMinLat) - 2.2).attr('width', 4.4)
  .attr('y', y(82.7)).attr('height', y(80) - y(82.7))
  .style('fill', '#c4529e')

// zonal mean
const line = d3.line()
  .x((d, i) => x(meanLat[i]))
  .y(d => y(d))
chart.append('path')
  .attr('d', line(meanT))
  .style('fill', 'none')
  .style('stroke', '#67bd45')
  .style('stroke-width', 5)
  .style('stroke-linejoin', 'round')

chart.append('line')
  .attr('x1', x(-89.7)).attr('x2', x(89.3))
  .attr('y1', y(tMax)).attr('y2', y(tMax))
  .style('stroke', magenta).style('stroke-width', 4.5)
chart.append('line')
  .attr('x1', x(tMaxLat)).attr('x2', x(tMaxLat))
  .attr('y1', y(230)).attr('y2', y(80))
  .style('stroke', magenta).style('stroke-width', 4.5)

// annotations
chart.append('text')
  .attr('x', x(66.5)).attr('y', y(tMax) - 30)
  .attr('text-anchor', 'middle')
  .style('font-family', 'Lato, "Open Sans", sans-serif')
  .style('font-weight', 700)
  .style('font-size', '30px')
  .style('letter-spacing', '-0.5px')
  .style('fill', magenta)
  .text('Tmax')
chart.append('text')
  .attr('x', x(16.4)).attr('y', y(tMin) + 57)
  .attr('text-anchor', 'middle')
  .style('font-family', 'Lato, "Open Sans", sans-serif')
  .style('font-weight', 700)
  .style('font-size', '30px')
  .style('letter-spacing', '-0.5px')
  .style('fill', '#56c6ec')
  .text('Tmin')

// axes: major + minor ticks on all four sides
const xMinor = d3.range(-82.5, 90, 15)
const yMinor = d3.range(80, 230, 6).filter(v => (v - 80) % 30 !== 0)
function ticks(axis, values, size) {
  return axis.tickValues(values).tickSize(size).tickSizeOuter(0).tickFormat('')
}
const axes = chart.append('g').attr('class', 'axes')
axes.append('g').attr('transform', `translate(0, ${height})`).call(ticks(d3.axisBottom(x), xTicks, -7))
axes.append('g').attr('transform', `translate(0, ${height})`).call(ticks(d3.axisBottom(x), xMinor, -4))
axes.append('g').call(ticks(d3.axisTop(x), xTicks, -7))
axes.append('g').call(ticks(d3.axisTop(x), xMinor, -4))
axes.append('g').call(ticks(d3.axisLeft(y), yTicks, -7))
axes.append('g').call(ticks(d3.axisLeft(y), yMinor, -4))
axes.append('g').attr('transform', `translate(${width}, 0)`).call(ticks(d3.axisRight(y), yTicks, -7))
axes.append('g').attr('transform', `translate(${width}, 0)`).call(ticks(d3.axisRight(y), yMinor, -4))
axes.selectAll('.domain').style('stroke', '#222').style('stroke-width', 2)
axes.selectAll('.tick line').style('stroke', '#222').style('stroke-width', 1.3)

// tick labels: digits centred on the tick, minus sign hanging to the left
const xLabels = chart.append('g')
xTicks.forEach(v => {
  const t = xLabels.append('text')
    .attr('x', x(v)).attr('y', height + 28.5)
    .attr('text-anchor', 'middle')
    .style('font-weight', 700)
    .style('font-size', '26px')
    .text(Math.abs(v))
  if (v < 0) {
    const w = t.node().getComputedTextLength()
    xLabels.append('text')
      .attr('x', x(v) - w / 2 - 1).attr('y', height + 28.5)
      .attr('text-anchor', 'end')
      .style('font-weight', 700)
      .style('font-size', '26px')
      .text('\u2212')
  }
})
chart.append('g')
  .selectAll('text')
  .data(yTicks)
  .enter()
  .append('text')
  .attr('x', -5)
  .attr('y', d => y(d) + 10.5)
  .attr('text-anchor', 'end')
  .style('font-weight', 700)
  .style('font-size', '26px')
  .text(d => d)

// axis titles
chart.append('text')
  .attr('x', width / 2 + 0.5)
  .attr('y', height + 56)
  .attr('text-anchor', 'middle')
  .style('font-size', '25px')
  .text('Latitude')
chart.append('text')
  .attr('transform', `translate(${35 - margin.left}, ${228 - margin.top}) rotate(-90)`)
  .attr('text-anchor', 'middle')
  .style('font-size', '26px')
  .text('1\u2212Pa T (K)')
</script>
</body>
</html>
